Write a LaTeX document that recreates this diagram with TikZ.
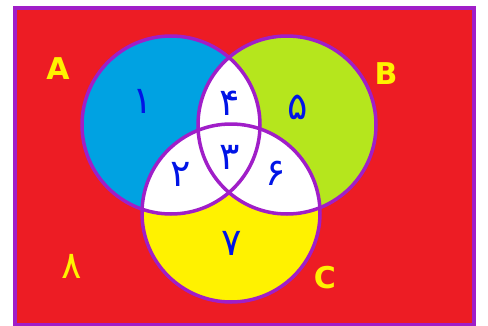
\documentclass[tikz,border=0pt]{standalone}
\usepackage{fontspec}
\newfontfamily\arabicfont[Script=Arabic]{DejaVu Sans}
\newfontfamily\letterfont{DejaVu Sans}
\definecolor{bgred}{RGB}{237,28,36}
\definecolor{ablue}{RGB}{0,162,226}
\definecolor{bgreen}{RGB}{181,230,29}
\definecolor{cyellow}{RGB}{255,242,0}
\definecolor{rim}{RGB}{160,30,200}
\definecolor{numblue}{RGB}{0,20,230}
\definecolor{lettery}{RGB}{255,242,0}
\begin{document}
\begin{tikzpicture}[x=1pt,y=-1pt,
  num/.style={text=numblue,font=\arabicfont\fontsize{38}{38}\selectfont,inner sep=0pt},
  lettr/.style={text=lettery,font=\letterfont\bfseries\fontsize{30}{30}\selectfont,inner sep=0pt},
  rimline/.style={draw=rim,line width=3.5pt}]
\useasboundingbox (0,0) rectangle (488,325);
\fill[white] (0,0) rectangle (488,325);
\draw[fill=bgred,draw=rim,line width=4pt] (15,7.5) rectangle (473.5,325);
\def\ca{(171,125) circle (89)}
\def\cb{(287,125) circle (89)}
\def\cc{(231,213) circle (89)}
\fill[ablue] \ca;
\fill[bgreen] \cb;
\fill[cyellow] \cc;
\begin{scope}\clip \ca; \fill[white] \cb; \fill[white] \cc;\end{scope}
\begin{scope}\clip \cb; \fill[white] \cc;\end{scope}
\draw[rimline] \ca;
\draw[rimline] \cb;
\draw[rimline] \cc;
\node[lettr] (la) at (58,69) {A};
\node[lettr] (lb) at (386,74) {B};
\node[lettr] (lc) at (325,278) {C};
\node[num,text=lettery] (n8) at (72,266) {۸};
\node[num] (n1) at (143,101) {۱};
\node[num] (n4) at (230,103) {۴};
\node[num] (n5) at (298,107) {۵};
\node[num] (n2) at (181,174) {۲};
\node[num] (n3) at (230,157) {۳};
\node[num] (n6) at (276,173) {۶};
\node[num] (n7) at (232,243) {۷};
\end{tikzpicture}
\end{document}
